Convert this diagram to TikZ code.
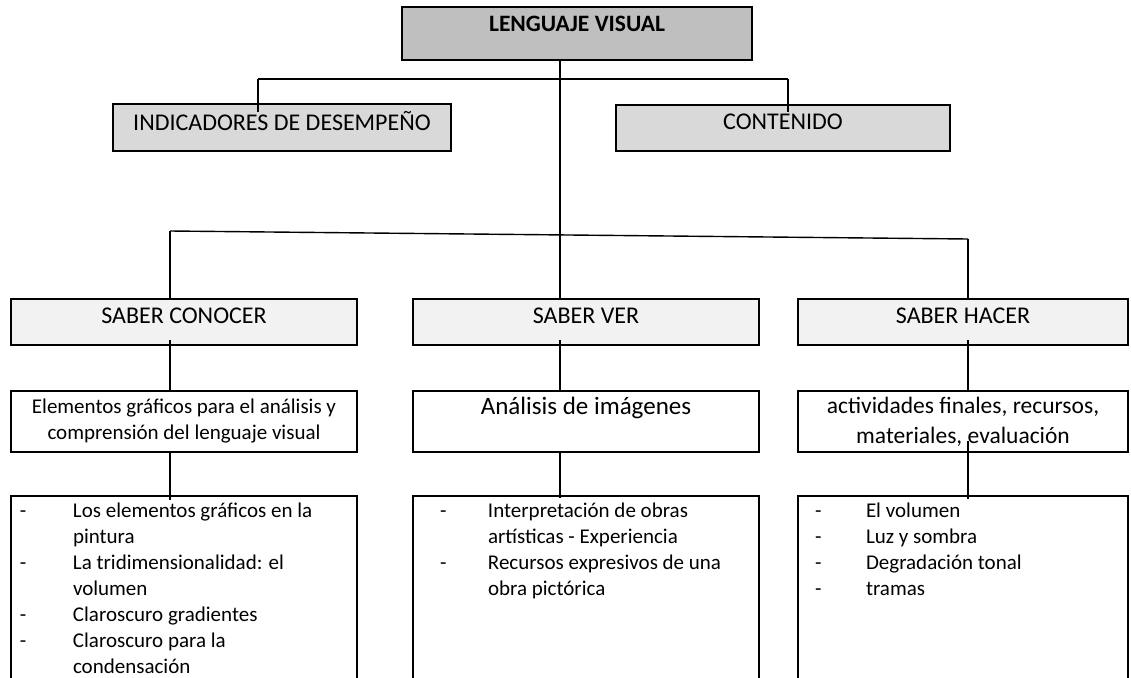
\documentclass[tikz,border=0pt]{standalone}
\usepackage{fontspec}
\setmainfont{Carlito}
\definecolor{gTop}{HTML}{BFBFBF}
\definecolor{gMid}{HTML}{D9D9D9}
\definecolor{gLow}{HTML}{F2F2F2}
\newcommand\dashln[3]{\strut\hspace*{#1}\makebox[\dimexpr#2-#1\relax][l]{-}#3}
\newcommand\contln[2]{\strut\hspace*{#1}#2}
\begin{document}
\begin{tikzpicture}[x=1pt,y=-1pt,
  bx/.style 2 args={draw=black, line width=1.9pt, inner sep=0pt, minimum width=#1, minimum height=#2},
  one/.style 2 args={text height=#1, text depth=#2},
  con/.style={draw=black, line width=1.4pt},
  hf/.style={font=\fontsize{24}{29}\selectfont},
  lf/.style={font=\fontsize{21}{26}\selectfont}
]
\useasboundingbox (0,0) rectangle (1131,677);

% boxes
\node[bx={350pt}{53pt}, fill=gTop, one={25pt}{28pt}, font=\fontsize{23.5}{28}\selectfont\bfseries] (lv) at (577,33.5) {LENGUAJE VISUAL};
\node[bx={338pt}{47pt}, fill=gMid, one={26pt}{21pt}, hf] (ind) at (282,127.5) {INDICADORES DE DESEMPEÑO};
\node[bx={334pt}{46pt}, fill=gMid, one={24pt}{22pt}, hf] (cnt) at (783,128) {CONTENIDO};

\node[bx={346pt}{46pt}, fill=gLow, one={24pt}{22pt}, hf] (sc) at (184,322) {SABER CONOCER};
\node[bx={346pt}{46pt}, fill=gLow, one={24pt}{22pt}, hf] (sv) at (586,322) {SABER VER};
\node[bx={330pt}{46pt}, fill=gLow, one={24pt}{22pt}, hf] (sh) at (963,322) {SABER HACER};

\node[bx={346pt}{61pt}, fill=white, align=center, lf] (ec) at (184,421.5) {Elementos gráficos para el análisis y\\comprensión del lenguaje visual};
\node[bx={346pt}{61pt}, fill=white, one={23pt}{38pt}, font=\fontsize{25}{30}\selectfont] (ai) at (586,421.5) {Análisis de imágenes};
\node[bx={330pt}{61pt}, fill=white, align=center, font=\fontsize{23.5}{30}\selectfont] (af) at (963,421.5) {actividades finales, recursos,\\materiales, evaluación};

\node[bx={346pt}{200pt}, fill=white, anchor=north, lf] (lc) at (184,495) {\parbox[t][200pt][t]{346pt}{%
  \rule{0pt}{22pt}\dashln{9pt}{62pt}{Los elementos gráficos en la}\\
  \contln{62pt}{pintura}\\
  \dashln{9pt}{62pt}{La tridimensionalidad: el}\\
  \contln{62pt}{volumen}\\
  \dashln{9pt}{62pt}{Claroscuro gradientes}\\
  \dashln{9pt}{62pt}{Claroscuro para la}\\
  \contln{62pt}{condensación}}};
\node[bx={346pt}{200pt}, fill=white, anchor=north, lf] (lm) at (586,495) {\parbox[t][200pt][t]{346pt}{%
  \rule{0pt}{22pt}\dashln{27pt}{75pt}{Interpretación de obras}\\
  \contln{75pt}{artísticas - Experiencia}\\
  \dashln{27pt}{75pt}{Recursos expresivos de una}\\
  \contln{75pt}{obra pictórica}}};
\node[bx={330pt}{200pt}, fill=white, anchor=north, lf] (lh) at (963,495) {\parbox[t][200pt][t]{330pt}{%
  \rule{0pt}{22pt}\dashln{17pt}{68pt}{El volumen}\\
  \dashln{17pt}{68pt}{Luz y sombra}\\
  \dashln{17pt}{68pt}{Degradación tonal}\\
  \dashln{17pt}{68pt}{tramas}}};

% connector junctions
\coordinate (tA) at (258,79);
\coordinate (tB) at (788,79);
\coordinate (bA) at (170,231);
\coordinate (bM) at (560,235);
\coordinate (bB) at (968,239);

% connectors
\draw[con] (lv.south -| bM) -- (bM);
\draw[con] (tA) -- (tB);
\draw[con] (tA) -- ([yshift=-9pt]tA |- ind.north);
\draw[con] (tB) -- ([yshift=-8pt]tB |- cnt.north);
\draw[con] (bA) -- (bB);
\draw[con] (bA) -- (bA |- sc.north);
\draw[con] (bM) -- (bM |- sv.north);
\draw[con] (bB) -- (bB |- sh.north);
\draw[con] ([yshift=6pt]bA |- sc.south) -- (bA |- ec.north);
\draw[con] ([yshift=6pt]bM |- sv.south) -- (bM |- ai.north);
\draw[con] ([yshift=6pt]bB |- sh.south) -- (bB |- af.north);
\draw[con] (bA |- ec.south) -- ([yshift=-5pt]bA |- lc.north);
\draw[con] (bM |- ai.south) -- ([yshift=-3pt]bM |- lm.north);
\draw[con] ([yshift=12pt]bB |- af.south) -- ([yshift=-4pt]bB |- lh.north);
\end{tikzpicture}
\end{document}
